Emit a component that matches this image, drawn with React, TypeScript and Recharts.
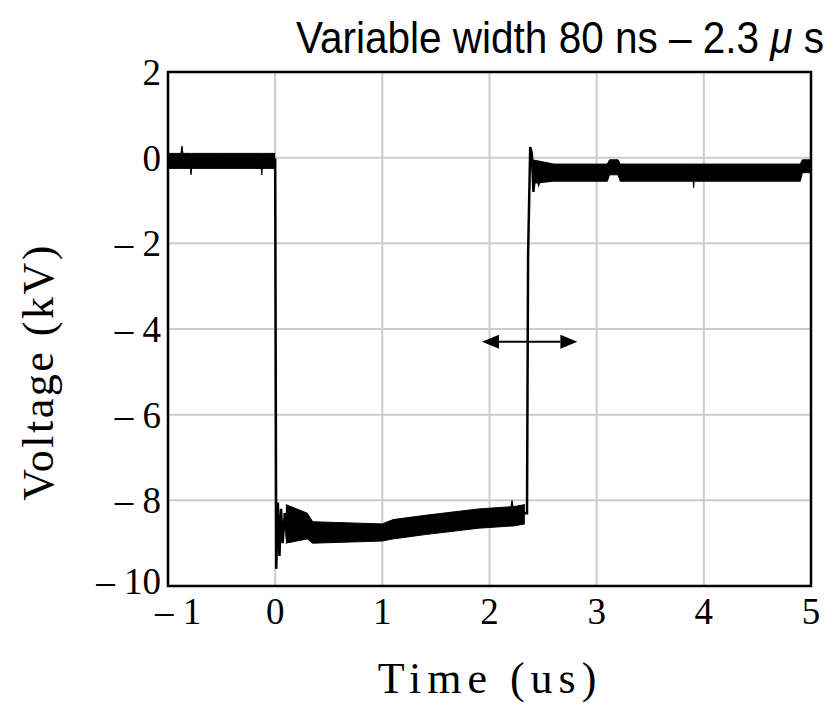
import {
  ComposedChart,
  Line,
  Area,
  XAxis,
  YAxis,
  CartesianGrid,
  ReferenceArea,
  ReferenceLine,
} from "recharts";

// main trace (centre of the noise band plus the edges and ringing)
const traceT = [-1, -0.5, -0.02, 0.0, 0.01, 0.025, 0.04, 0.055, 0.07, 0.09, 0.11, 0.14, 0.18, 0.3, 0.6, 1.0, 1.4, 1.9, 2.33, 2.35, 2.36, 2.37, 2.38, 2.395, 2.41, 2.43, 2.46, 2.5, 3.0, 3.17, 3.22, 4.0, 4.9, 4.95, 5.0];
const traceV = [-0.05, -0.05, -0.05, -0.05, -9.6, -8.05, -9.3, -8.2, -9.0, -8.3, -8.9, -8.5, -8.7, -8.65, -8.75, -8.75, -8.55, -8.4, -8.3, -8.3, -2.3, -1.0, 0.25, 0.1, -0.8, -0.2, -0.6, -0.35, -0.35, -0.25, -0.35, -0.35, -0.35, -0.2, -0.2];

// noise envelope before the pulse
const band0T = [-1, -0.88, -0.87, -0.86, -0.79, -0.785, -0.78, -0.5, -0.13, -0.125, -0.12, 0];
const band0Lo = [-0.25, -0.25, -0.25, -0.25, -0.25, -0.4, -0.25, -0.25, -0.25, -0.4, -0.25, -0.25];
const band0Hi = [0.1, 0.1, 0.27, 0.1, 0.1, 0.1, 0.1, 0.1, 0.1, 0.1, 0.1, 0.1];

// noise envelope on the pulse bottom
const band1T = [0.1, 0.3, 0.35, 1.0, 1.1, 1.4, 1.9, 2.2, 2.21, 2.22, 2.33];
const band1Lo = [-9.0, -8.9, -9.0, -8.95, -8.9, -8.8, -8.65, -8.6, -8.6, -8.6, -8.55];
const band1Hi = [-8.1, -8.3, -8.5, -8.55, -8.45, -8.35, -8.2, -8.15, -8.0, -8.15, -8.1];

// noise envelope after the pulse
const band2T = [2.4, 2.6, 3.1, 3.12, 3.2, 3.22, 3.9, 3.905, 3.91, 4.9, 4.92, 5.0];
const band2Lo = [-0.6, -0.55, -0.55, -0.4, -0.4, -0.55, -0.55, -0.7, -0.55, -0.55, -0.35, -0.35];
const band2Hi = [-0.05, -0.15, -0.15, -0.05, -0.05, -0.15, -0.15, -0.15, -0.15, -0.15, -0.05, -0.05];

const xTicks = [-1, 0, 1, 2, 3, 4, 5];
const yTicks = [-10, -8, -6, -4, -2, 0, 2];

// pulse-width arrow
const arrowX = [1.93, 2.82];
const arrowY = -4.3;

function buildRows() {
  const rows = new Map<number, any>();
  const get = (t: number) => {
    if (!rows.has(t)) rows.set(t, { t });
    return rows.get(t);
  };
  traceT.forEach((t, i) => (get(t).v = traceV[i]));
  band0T.forEach((t, i) => (get(t).b0 = [band0Lo[i], band0Hi[i]]));
  band1T.forEach((t, i) => (get(t).b1 = [band1Lo[i], band1Hi[i]]));
  band2T.forEach((t, i) => (get(t).b2 = [band2Lo[i], band2Hi[i]]));
  return [...rows.values()].sort((a, b) => a.t - b.t);
}

const data = buildRows();

const fmt = (v: number) => (v < 0 ? `\u2013 ${Math.abs(v)}` : `${v}`);

const font = { fontFamily: "Liberation Serif", fontSize: 37, fill: "#000" };

const XTick = ({ x, y, payload }: any) => (
  <text x={x + (payload.value < 0 ? 10 : 0)} y={y} dy="0.71em" textAnchor="middle" {...font}>
    {fmt(payload.value)}
  </text>
);

const YTick = ({ x, y, payload }: any) => (
  <text x={x} y={y - (payload.value === -10 ? 5 : 0)} dy="0.355em" textAnchor="end" {...font}>
    {fmt(payload.value)}
  </text>
);

const Arrow = (p: any) => {
  const { x1, y1, x2, y2 } = p;
  const h = 17;
  const w = 7;
  return (
    <g>
      <line x1={x1 + h} y1={y1} x2={x2 - h} y2={y2} stroke="#000" strokeWidth={2} />
      <polygon points={`${x1},${y1} ${x1 + h},${y1 - w} ${x1 + h},${y1 + w}`} fill="#000" />
      <polygon points={`${x2},${y2} ${x2 - h},${y2 - w} ${x2 - h},${y2 + w}`} fill="#000" />
    </g>
  );
};

export default function App() {
  return (
    <div style={{ position: "relative", width: 824, height: 710 }}>
      <div
        style={{
          position: "absolute",
          left: 0,
          width: 1104,
          top: 5,
          textAlign: "center",
          fontFamily: "Liberation Sans",
          fontSize: 45,
          lineHeight: "50px",
          whiteSpace: "nowrap",
          transform: "scaleX(0.9)",
          transformOrigin: "552px 0px",
        }}
      >
        Variable width 80 ns – 2.3 <i>μ</i> s
      </div>
      <div
        style={{
          position: "absolute",
          left: 31 - 200,
          top: 364 - 25,
          width: 400,
          height: 50,
          lineHeight: "50px",
          textAlign: "center",
          transform: "rotate(-90deg)",
          fontFamily: "Liberation Serif",
          fontSize: 44,
          letterSpacing: 2.5,
        }}
      >
        Voltage (kV)
      </div>
      <div
        style={{
          position: "absolute",
          left: 482 - 200,
          top: 671 - 25,
          width: 400,
          height: 50,
          lineHeight: "50px",
          textAlign: "center",
          fontFamily: "Liberation Serif",
          fontSize: 44,
          letterSpacing: 6,
        }}
      >
        Time (us)
      </div>
      <div style={{ position: "absolute", left: 0, top: 0 }}>
        <ComposedChart
          width={824}
          height={710}
          data={data}
          margin={{ top: 64, right: 21, bottom: 92, left: 100 }}
        >
          <CartesianGrid stroke="#cccccc" strokeWidth={2} />
          <XAxis
            dataKey="t"
            type="number"
            domain={[-1, 5]}
            ticks={xTicks}
            axisLine={false}
            tickLine={false}
            height={40}
            tick={<XTick />}
            tickMargin={6}
            interval={0}
          />
          <YAxis
            type="number"
            domain={[-10, 2]}
            ticks={yTicks}
            axisLine={false}
            tickLine={false}
            width={60}
            tick={<YTick />}
            tickMargin={1}
            interval={0}
          />
          <Area dataKey="b0" type="linear" fill="#000" fillOpacity={1} stroke="#000" strokeWidth={1} connectNulls isAnimationActive={false} dot={false} activeDot={false} />
          <Area dataKey="b1" type="linear" fill="#000" fillOpacity={1} stroke="#000" strokeWidth={1} connectNulls isAnimationActive={false} dot={false} activeDot={false} />
          <Area dataKey="b2" type="linear" fill="#000" fillOpacity={1} stroke="#000" strokeWidth={1} connectNulls isAnimationActive={false} dot={false} activeDot={false} />
          <Line dataKey="v" type="linear" stroke="#000" strokeWidth={2.5} dot={false} activeDot={false} connectNulls isAnimationActive={false} />
          <ReferenceLine
            segment={[
              { x: arrowX[0], y: arrowY },
              { x: arrowX[1], y: arrowY },
            ]}
            shape={Arrow}
          />
          <ReferenceArea x1={-1} x2={5} y1={-10} y2={2} fill="none" stroke="#000" strokeWidth={2.5} />
        </ComposedChart>
      </div>
    </div>
  );
}
